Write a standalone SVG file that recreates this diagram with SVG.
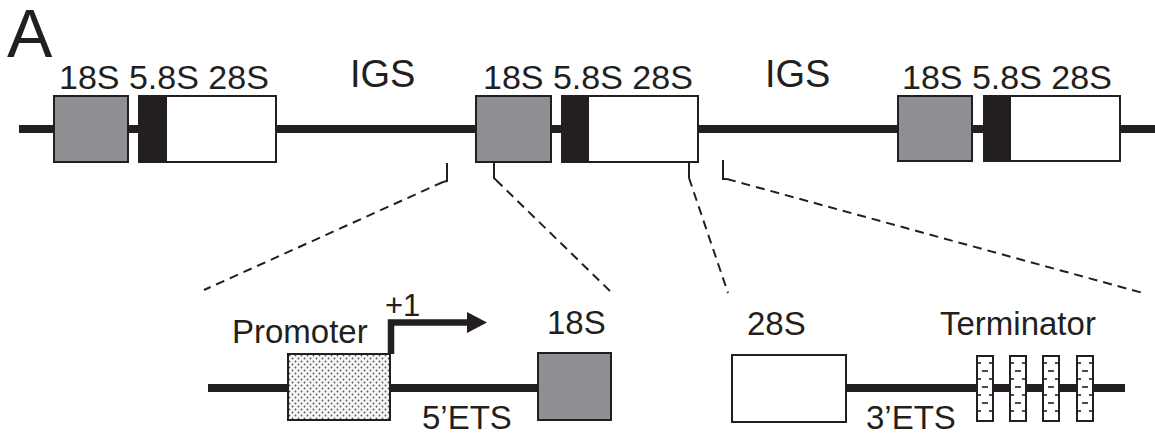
<svg xmlns="http://www.w3.org/2000/svg" width="1155" height="435" viewBox="0 0 1155 435">
  <style>
    text { font-family: "Liberation Sans", Arial, sans-serif; fill: #231f20; }
    .lbl { font-size: 34px; }
    .igs { font-size: 38px; }
    .sub { font-size: 33px; }
    .dna { stroke: #231f20; stroke-width: 8; fill: none; }
    .box { stroke: #231f20; stroke-width: 2; }
    .r18 { fill: #8e8f92; }
    .r58 { fill: #231f20; }
    .r28 { fill: #ffffff; }
    .zoom { stroke: #231f20; stroke-width: 2; fill: none; }
    .dash { stroke-dasharray: 9 6; }
    .term { fill: #ffffff; stroke: #231f20; stroke-width: 2; }
    .tick { stroke: #231f20; stroke-width: 1.6; }
  </style>
  <defs>
    <pattern id="dots" width="6" height="6" patternUnits="userSpaceOnUse">
      <rect width="6" height="6" fill="#f6f6f6"/>
      <circle cx="1.5" cy="1.5" r="0.9" fill="#555"/>
      <circle cx="4.5" cy="4.5" r="0.9" fill="#555"/>
    </pattern>
    <!-- terminator element: white bar with dash marks -->
    <g id="termbox">
      <rect class="term" x="0" y="0" width="16" height="65"/>
      <g class="tick">
        <line x1="1" y1="7" x2="4" y2="7"/><line x1="12" y1="7" x2="15" y2="7"/>
        <line x1="5" y1="15" x2="11" y2="15"/>
        <line x1="1" y1="23" x2="4" y2="23"/><line x1="12" y1="23" x2="15" y2="23"/>
        <line x1="5" y1="31" x2="11" y2="31"/>
        <line x1="1" y1="39" x2="4" y2="39"/><line x1="12" y1="39" x2="15" y2="39"/>
        <line x1="5" y1="47" x2="11" y2="47"/>
        <line x1="1" y1="55" x2="4" y2="55"/><line x1="12" y1="55" x2="15" y2="55"/>
      </g>
    </g>
  </defs>

  <rect width="1155" height="435" fill="#ffffff"/>

  <text x="7" y="57" style="font-size:68px">A</text>

  <!-- rDNA array backbone -->
  <g id="backbone">
    <line class="dna" x1="19" y1="129" x2="1155" y2="129"/>
  </g>

  <!-- repeat unit 1 -->
  <g id="unit1">
    <rect class="box r18" x="54" y="96" width="74" height="66"/>
    <rect class="box r58" x="139" y="96" width="27" height="66"/>
    <rect class="box r28" x="166" y="96" width="110" height="66"/>
    <text class="lbl" x="59" y="89">18S 5.8S 28S</text>
  </g>

  <g id="igs1"><text class="igs" x="350" y="87">IGS</text></g>

  <!-- repeat unit 2 -->
  <g id="unit2">
    <rect class="box r18" x="476" y="96" width="75" height="66"/>
    <rect class="box r58" x="562" y="96" width="26" height="66"/>
    <rect class="box r28" x="588" y="96" width="110" height="66"/>
    <text class="lbl" x="483" y="89">18S 5.8S 28S</text>
  </g>

  <g id="igs2"><text class="igs" x="765" y="87">IGS</text></g>

  <!-- repeat unit 3 -->
  <g id="unit3">
    <rect class="box r18" x="898" y="96" width="74" height="65"/>
    <rect class="box r58" x="984" y="96" width="26" height="65"/>
    <rect class="box r28" x="1010" y="96" width="110" height="65"/>
    <text class="lbl" x="902" y="89">18S 5.8S 28S</text>
  </g>

  <!-- zoom-in guides -->
  <g id="connectors">
    <polyline class="zoom" points="447,163 447,181 443,182"/>
    <line class="zoom dash" x1="443" y1="182" x2="204" y2="290"/>
    <polyline class="zoom" points="494,162 494,178 496,180"/>
    <line class="zoom dash" x1="496" y1="180" x2="610" y2="291"/>
    <polyline class="zoom" points="689,162 689,178"/>
    <line class="zoom dash" x1="689" y1="178" x2="728" y2="293"/>
    <polyline class="zoom" points="723,160 723,179 727,179"/>
    <line class="zoom dash" x1="727" y1="179" x2="1143" y2="293"/>
  </g>

  <!-- 5' region detail -->
  <g id="detail5">
    <line class="dna" x1="208" y1="388" x2="538" y2="388"/>
    <rect class="box" x="288" y="354" width="102" height="66" fill="url(#dots)"/>
    <polyline points="391,354 391,322.5 468,322.5" fill="none" stroke="#231f20" stroke-width="6.5"/>
    <polygon points="467,312 487,322.5 467,333" fill="#231f20"/>
    <rect class="box r18" x="538" y="353" width="73" height="67"/>
    <text class="sub" x="232" y="343">Promoter</text>
    <text class="sub" x="385" y="316" style="font-size:31px">+1</text>
    <text class="sub" x="547" y="334">18S</text>
    <text class="sub" x="422" y="429">5’ETS</text>
  </g>

  <!-- 3' region detail -->
  <g id="detail3">
    <line class="dna" x1="846" y1="388" x2="1125" y2="388"/>
    <rect class="box r28" x="732" y="355" width="114" height="67"/>
    <use href="#termbox" x="977" y="356"/>
    <use href="#termbox" x="1010" y="356"/>
    <use href="#termbox" x="1043" y="356"/>
    <use href="#termbox" x="1077" y="356"/>
    <text class="sub" x="747" y="335">28S</text>
    <text class="sub" x="940" y="335">Terminator</text>
    <text class="sub" x="866" y="429">3’ETS</text>
  </g>
</svg>
